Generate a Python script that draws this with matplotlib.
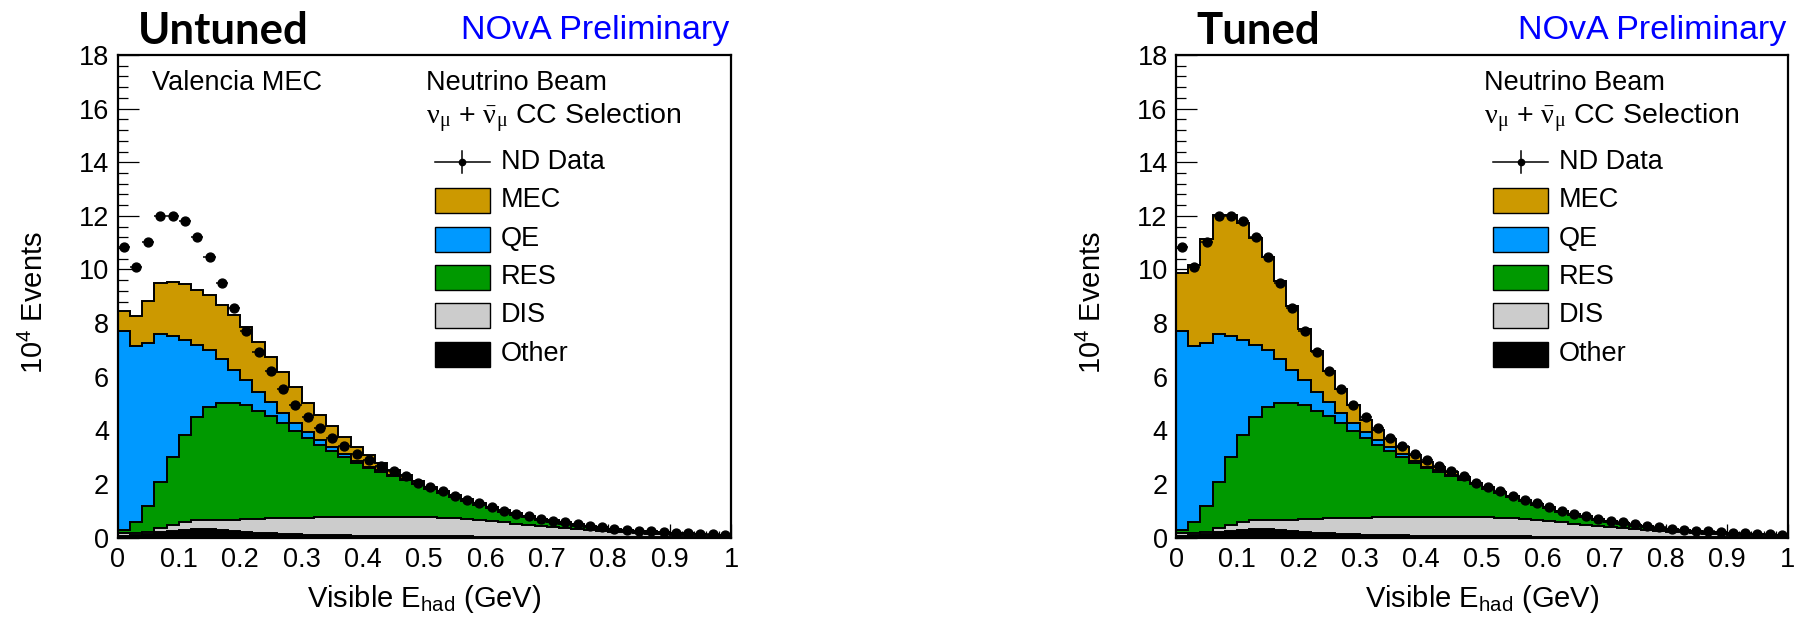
import numpy as np
import matplotlib
matplotlib.use("Agg")
import matplotlib.pyplot as plt
from matplotlib.patches import Rectangle
from matplotlib.lines import Line2D
from matplotlib.ticker import MultipleLocator

plt.rcParams['font.family'] = ['Liberation Sans', 'DejaVu Sans']
plt.rcParams['mathtext.fontset'] = 'custom'
plt.rcParams['mathtext.rm'] = 'Liberation Serif'
plt.rcParams['mathtext.it'] = 'Liberation Serif:italic'
plt.rcParams['mathtext.sf'] = 'Liberation Sans'
plt.rcParams['mathtext.bf'] = 'Liberation Sans:bold'

# ---------------- data (units of 10^4 events, 50 bins of 0.02 GeV) ----------------
bin_edges = np.linspace(0.0, 1.0, 51)

nd_data = [10.85, 10.08, 11.03, 12.01, 11.98, 11.79, 11.22, 10.46, 9.50, 8.58,
           7.72, 6.91, 6.21, 5.53, 4.95, 4.48, 4.10, 3.71, 3.40, 3.11,
           2.88, 2.68, 2.48, 2.28, 2.05, 1.87, 1.72, 1.56, 1.40, 1.27,
           1.12, 1.00, 0.89, 0.79, 0.70, 0.63, 0.56, 0.49, 0.43, 0.38,
           0.33, 0.29, 0.26, 0.23, 0.20, 0.17, 0.15, 0.14, 0.12, 0.10]

other = [0.06, 0.10, 0.12, 0.19, 0.25, 0.29, 0.32, 0.31, 0.29, 0.25,
         0.21, 0.17, 0.15, 0.13, 0.12, 0.10, 0.09, 0.08, 0.075, 0.07,
         0.065, 0.06, 0.06, 0.055, 0.05, 0.05, 0.045, 0.04, 0.04, 0.035,
         0.035, 0.03, 0.03, 0.03, 0.025, 0.025, 0.02, 0.02, 0.02, 0.02,
         0.015, 0.015, 0.015, 0.015, 0.01, 0.01, 0.01, 0.01, 0.01, 0.01]

dis = [0.10, 0.08, 0.10, 0.18, 0.20, 0.27, 0.32, 0.35, 0.37, 0.42,
       0.48, 0.53, 0.56, 0.59, 0.61, 0.64, 0.66, 0.68, 0.69, 0.69,
       0.70, 0.71, 0.71, 0.72, 0.72, 0.72, 0.70, 0.68, 0.64, 0.60,
       0.57, 0.53, 0.48, 0.44, 0.40, 0.37, 0.33, 0.29, 0.26, 0.23,
       0.20, 0.18, 0.15, 0.13, 0.12, 0.10, 0.09, 0.08, 0.07, 0.06]

res = [0.13, 0.38, 0.95, 1.70, 2.55, 3.25, 3.84, 4.21, 4.36, 4.35,
       4.24, 4.03, 3.81, 3.55, 3.23, 2.97, 2.71, 2.48, 2.24, 2.02,
       1.82, 1.67, 1.52, 1.37, 1.21, 1.05, 0.92, 0.79, 0.68, 0.58,
       0.48, 0.40, 0.34, 0.28, 0.23, 0.19, 0.16, 0.13, 0.10, 0.08,
       0.06, 0.05, 0.04, 0.03, 0.03, 0.02, 0.01, 0.01, 0.00, 0.00]

qe = [7.43, 6.58, 6.10, 5.51, 4.51, 3.55, 2.70, 2.13, 1.64, 1.24,
      0.96, 0.71, 0.53, 0.38, 0.31, 0.23, 0.19, 0.12, 0.11, 0.08,
      0.06, 0.06, 0.04, 0.02, 0.02, 0.03, 0.03, 0.03, 0.02, 0.02,
      0.02, 0.02, 0.02, 0.02, 0.02, 0.02, 0.02, 0.02, 0.02, 0.02,
      0.02, 0.02, 0.02, 0.02, 0.01, 0.01, 0.01, 0.01, 0.01, 0.01]

mec_untuned = [0.72, 1.12, 1.57, 1.92, 2.03, 2.08, 2.05, 2.04, 2.03, 2.05,
               1.96, 1.85, 1.67, 1.53, 1.33, 1.08, 0.91, 0.79, 0.64, 0.50,
               0.44, 0.28, 0.20, 0.18, 0.12, 0.05, 0.05, 0.05, 0.05, 0.05,
               0.04, 0.04, 0.03, 0.03, 0.03, 0.03, 0.03, 0.03, 0.03, 0.03,
               0.03, 0.03, 0.03, 0.03, 0.03, 0.03, 0.03, 0.02, 0.02, 0.02]

mec_tuned = [2.13, 3.02, 3.85, 4.45, 4.52, 4.36, 3.99, 3.47, 2.90, 2.37,
             1.87, 1.51, 1.15, 0.89, 0.69, 0.46, 0.37, 0.31, 0.26, 0.23,
             0.19, 0.13, 0.11, 0.09, 0.05, 0.02, 0.02, 0.02, 0.02, 0.02,
             0.02, 0.02, 0.02, 0.02, 0.02, 0.02, 0.02, 0.02, 0.02, 0.02,
             0.02, 0.02, 0.02, 0.02, 0.02, 0.02, 0.02, 0.02, 0.02, 0.02]

component_names = ["Other", "DIS", "RES", "QE", "MEC"]
component_colors = ["#000000", "#CCCCCC", "#009900", "#0099FF", "#CC9900"]
x_ticks = [0, 0.1, 0.2, 0.3, 0.4, 0.5, 0.6, 0.7, 0.8, 0.9, 1]
x_tick_labels = ["0", "0.1", "0.2", "0.3", "0.4", "0.5", "0.6", "0.7", "0.8", "0.9", "1"]

# ---------------- layout ----------------
W, H = 1795, 623
fig = plt.figure(figsize=(W / 100, H / 100), dpi=100)
FS = 19.5
AX_TOP, AX_BOT = 55, 537.5


def fx(px):
    return px / W


def fy(py):
    return 1 - py / H


def draw_panel(left_px, right_px, mec, title, show_valencia):
    ax = fig.add_axes([fx(left_px), fy(AX_BOT), (right_px - left_px) / W, (AX_BOT - AX_TOP) / H])
    wpx = right_px - left_px
    hpx = AX_BOT - AX_TOP
    layers = np.array([other, dis, res, qe, mec])
    cum = np.cumsum(layers, axis=0)
    for i in range(len(layers) - 1, -1, -1):
        ax.stairs(cum[i], bin_edges, baseline=0, fill=True,
                  facecolor=component_colors[i], edgecolor="black", linewidth=1.4, zorder=3)
    centers = 0.5 * (bin_edges[:-1] + bin_edges[1:])
    half = 0.5 * np.diff(bin_edges)
    ax.errorbar(centers, nd_data, xerr=half, fmt="o", color="black", ms=6.4,
                elinewidth=1.1, capsize=0, zorder=4)

    ax.set_xlim(0, 1)
    ax.set_ylim(0, 18)
    ax.set_xticks(x_ticks)
    ax.set_xticklabels(x_tick_labels)
    ax.xaxis.set_minor_locator(MultipleLocator(0.02))
    ax.yaxis.set_major_locator(MultipleLocator(2))
    ax.yaxis.set_minor_locator(MultipleLocator(0.4))
    ax.tick_params(which="both", direction="in", top=False, right=False,
                   labelsize=FS, width=0.9)
    ax.tick_params(axis="x", which="major", length=10, pad=7)
    ax.tick_params(axis="x", which="minor", length=5)
    ax.tick_params(axis="y", which="major", length=15, pad=6)
    ax.tick_params(axis="y", which="minor", length=7.5)
    ax.xaxis.set_zorder(2)
    ax.yaxis.set_zorder(2)
    for s in ax.spines.values():
        s.set_linewidth(1.6)
        s.set_zorder(6)

    ax.set_xlabel(r"Visible E$_{\mathsf{had}}$ (GeV)", fontsize=21)
    ax.xaxis.set_label_coords(0.5, -0.095)
    ax.set_ylabel(r"$\mathsf{10^{4}}$ Events", fontsize=21)
    ax.yaxis.set_label_coords(-0.112, (AX_BOT - 303) / hpx)

    def ax_x(px_off):
        return px_off / wpx

    def ax_y(py):
        return (AX_BOT - py) / hpx

    # texts in the pad
    rows = [83, 118, 162, 200, 239, 277, 315, 354]
    box_l, box_w, box_h = 317, 55, 25
    text_l = 383
    if show_valencia:
        ax.text(ax_x(35), ax_y(rows[0]), "Valencia MEC", transform=ax.transAxes,
                fontsize=FS, va="center", ha="left")
    ax.text(ax_x(box_l - 9), ax_y(rows[0]), "Neutrino Beam", transform=ax.transAxes,
            fontsize=FS, va="center", ha="left")
    ax.text(ax_x(box_l - 9), ax_y(rows[1]),
            r"$\mathrm{\nu_{\mu}}$ + $\mathrm{\bar{\nu}_{\mu}}$ CC Selection",
            transform=ax.transAxes, fontsize=20.5, va="center", ha="left")
    # ND data entry
    yd = ax_y(rows[2])
    ax.add_line(Line2D([ax_x(box_l), ax_x(box_l + box_w)], [yd, yd], color="black",
                       lw=1.1, transform=ax.transAxes))
    ax.add_line(Line2D([ax_x(box_l + box_w / 2)] * 2, [ax_y(rows[2] - 11), ax_y(rows[2] + 11)],
                       color="black", lw=1.1, transform=ax.transAxes))
    ax.add_line(Line2D([ax_x(box_l + box_w / 2)], [yd], marker="o", ms=4.5, color="black",
                       transform=ax.transAxes))
    ax.text(ax_x(text_l), yd, "ND Data", transform=ax.transAxes, fontsize=FS,
            va="center", ha="left")
    order = [4, 3, 2, 1, 0]
    for r, idx in zip(rows[3:], order):
        ax.add_patch(Rectangle((ax_x(box_l), ax_y(r + box_h / 2)), box_w / wpx, box_h / hpx,
                               facecolor=component_colors[idx], edgecolor="black", lw=1.0,
                               transform=ax.transAxes, zorder=7))
        ax.text(ax_x(text_l), ax_y(r), component_names[idx], transform=ax.transAxes,
                fontsize=FS, va="center", ha="left")

    # titles above the pad
    fig.text(fx(left_px + 20), fy(31), title, fontsize=31.5, fontweight="bold",
             family=["Lato", "DejaVu Sans"], va="center", ha="left")
    fig.text(fx(right_px - 2), fy(30), "NOvA Preliminary", fontsize=24.5, color="#0000FF",
             va="center", ha="right")
    return ax


draw_panel(117.5, 731, mec_untuned, "Untuned", True)
draw_panel(1176, 1788, mec_tuned, "Tuned", False)

fig.savefig("out.png", dpi=100)
